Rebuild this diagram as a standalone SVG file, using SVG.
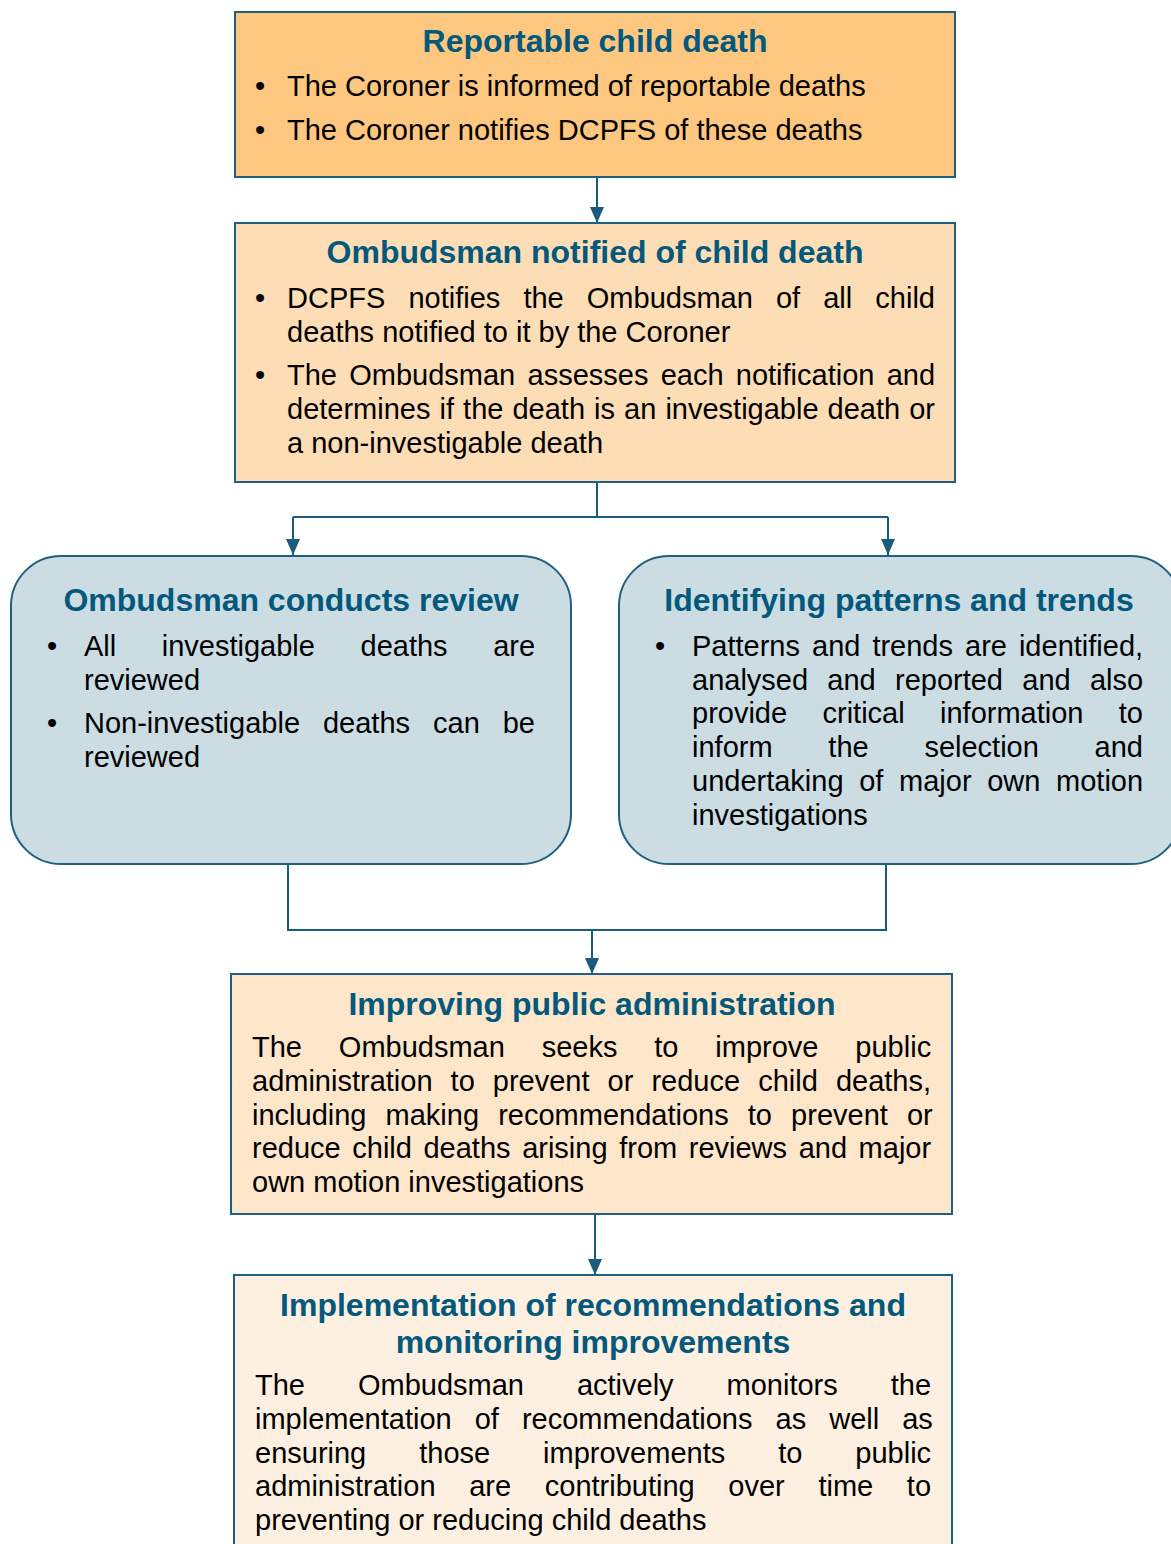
<svg xmlns="http://www.w3.org/2000/svg" width="1171" height="1544" viewBox="0 0 1171 1544">
<style>
.box{stroke:#1F6080;stroke-width:2}
.title{font-family:"Liberation Sans",Arial,sans-serif;font-weight:bold;font-size:32px;fill:#03587C;text-anchor:middle}
.body{font-family:"Liberation Sans",Arial,sans-serif;font-size:29px;fill:#000}
.conn{fill:none;stroke:#1A5C7D;stroke-width:2}
</style>
<defs>
<marker id="arr" markerUnits="userSpaceOnUse" markerWidth="16" markerHeight="16" viewBox="0 0 16 16" refX="16" refY="8" orient="auto">
<path d="M0,1 L16,8 L0,15 Z" fill="#1A5C7D"/>
</marker>
</defs>
<rect width="1171" height="1544" fill="#fff"/>

<g id="connectors">
<path class="conn" d="M597,177 V223" marker-end="url(#arr)"/>
<path class="conn" d="M597,482 V517 M293,517 H888"/>
<path class="conn" d="M293,517 V555" marker-end="url(#arr)"/>
<path class="conn" d="M888,517 V555" marker-end="url(#arr)"/>
<path class="conn" d="M288,864 V930 H886 V864"/>
<path class="conn" d="M592,930 V974" marker-end="url(#arr)"/>
<path class="conn" d="M595,1214 V1275" marker-end="url(#arr)"/>
</g>

<g id="node-reportable">
<rect class="box" x="235" y="12" width="720" height="165" fill="#FEC77F"/>
<text class="title" x="595" y="52">Reportable child death</text>
<text class="body" x="255" y="96">•</text>
<text class="body" x="287" y="96">The Coroner is informed of reportable deaths</text>
<text class="body" x="255" y="140">•</text>
<text class="body" x="287" y="140">The Coroner notifies DCPFS of these deaths</text>
</g>

<g id="node-notified">
<rect class="box" x="235" y="223" width="720" height="259" fill="#FDDDB5"/>
<text class="title" x="595" y="263">Ombudsman notified of child death</text>
<text class="body" x="255" y="308">•</text>
<text class="body" x="287" y="308" word-spacing="15.05">DCPFS notifies the Ombudsman of all child</text>
<text class="body" x="287" y="342">deaths notified to it by the Coroner</text>
<text class="body" x="255" y="385">•</text>
<text class="body" x="287" y="385" word-spacing="4.2">The Ombudsman assesses each notification and</text>
<text class="body" x="287" y="419" word-spacing="1">determines if the death is an investigable death or</text>
<text class="body" x="287" y="453">a non-investigable death</text>
</g>

<g id="node-review">
<rect class="box" x="11" y="556" width="560" height="308" rx="50" ry="50" fill="#CBDCE3"/>
<text class="title" x="291" y="611">Ombudsman conducts review</text>
<text class="body" x="47" y="656">•</text>
<text class="body" x="84" y="656" word-spacing="37.5">All investigable deaths are</text>
<text class="body" x="84" y="690">reviewed</text>
<text class="body" x="47" y="733">•</text>
<text class="body" x="84" y="733" word-spacing="14.9">Non-investigable deaths can be</text>
<text class="body" x="84" y="767">reviewed</text>
</g>

<g id="node-patterns">
<rect class="box" x="619" y="556" width="562" height="308" rx="50" ry="50" fill="#CBDCE3"/>
<text class="title" x="899" y="611">Identifying patterns and trends</text>
<text class="body" x="655" y="656">•</text>
<text class="body" x="692" y="656" word-spacing="3.95">Patterns and trends are identified,</text>
<text class="body" x="692" y="690" word-spacing="11.2">analysed and reported and also</text>
<text class="body" x="692" y="723" word-spacing="27.3">provide critical information to</text>
<text class="body" x="692" y="757" word-spacing="47.7">inform the selection and</text>
<text class="body" x="692" y="791" word-spacing="7.6">undertaking of major own motion</text>
<text class="body" x="692" y="825">investigations</text>
</g>

<g id="node-improving">
<rect class="box" x="231" y="974" width="721" height="240" fill="#FDE6CA"/>
<text class="title" x="592" y="1015">Improving public administration</text>
<text class="body" x="252" y="1057" word-spacing="28.8">The Ombudsman seeks to improve public</text>
<text class="body" x="252" y="1091" word-spacing="10">administration to prevent or reduce child deaths,</text>
<text class="body" x="252" y="1125" word-spacing="11.06">including making recommendations to prevent or</text>
<text class="body" x="252" y="1158" word-spacing="3.53">reduce child deaths arising from reviews and major</text>
<text class="body" x="252" y="1192">own motion investigations</text>
</g>

<g id="node-implementation">
<rect class="box" x="234" y="1275" width="718" height="290" fill="#FDF0E0"/>
<text class="title" x="593" y="1316">Implementation of recommendations and</text>
<text class="title" x="593" y="1353">monitoring improvements</text>
<text class="body" x="255" y="1395" word-spacing="44.9">The Ombudsman actively monitors the</text>
<text class="body" x="255" y="1429" word-spacing="15">implementation of recommendations as well as</text>
<text class="body" x="255" y="1463" word-spacing="44.9">ensuring those improvements to public</text>
<text class="body" x="255" y="1496" word-spacing="25.6">administration are contributing over time to</text>
<text class="body" x="255" y="1530">preventing or reducing child deaths</text>
</g>
</svg>
